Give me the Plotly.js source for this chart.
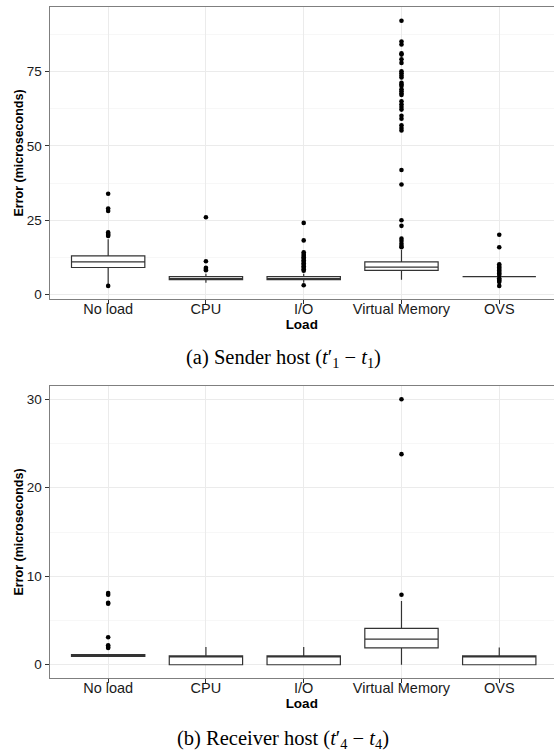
<!DOCTYPE html>
<html>
<head>
<meta charset="utf-8">
<script src="https://cdn.plot.ly/plotly-3.0.1.min.js"></script>
<style>
html,body{margin:0;padding:0;background:#fff;}
#chart{width:554px;height:755px;}
</style>
</head>
<body>
<div id="chart"></div>
<script>
// ---------- data ----------
var categories = ['No load', 'CPU', 'I/O', 'Virtual Memory', 'OVS'];

// (a) Sender host
var senderQ1     = [9.1, 5.0, 5.0, 8.1, 6.0];
var senderMedian = [11.0, 5.0, 5.0, 9.2, 6.0];
var senderQ3     = [13.0, 6.0, 6.0, 11.0, 6.0];
var senderLow    = [3.5, 4.0, 4.0, 5.0, 6.0];
var senderHigh   = [18.6, 7.0, 7.0, 15.0, 6.0];
var senderOutNoLoad = [33.9, 28.9, 28.1, 20.9, 20.4, 20.0, 19.7, 2.9];
var senderOutCPU    = [26.0, 11.2, 9.0, 8.6, 8.2];
var senderOutIO     = [24.1, 18.2, 14.2, 13.6, 13.0, 12.5, 12.0, 11.5, 11.0, 10.5, 10.0, 9.5, 9.0, 8.5, 8.0, 3.1];
var senderOutVM     = [92.1, 85.1, 84.1, 81.1, 80.7, 79.1, 77.9, 75.1, 74.4, 73.7, 73.0, 71.2, 70.6, 70.1, 69.0, 68.4, 67.6, 67.1, 65.0, 64.0, 63.1, 62.2, 60.1, 59.1, 56.9, 56.0, 55.2, 41.9, 37.0, 25.0, 23.1, 18.8, 18.0, 17.1, 16.3, 15.9];
var senderOutOVS    = [20.1, 15.9, 10.2, 9.6, 9.1, 8.6, 8.1, 7.6, 7.1, 6.6, 5.5, 5.0, 4.6, 4.2, 2.9];

// (b) Receiver host
var receiverQ1     = [0.93, 0.0, 0.0, 1.9, 0.0];
var receiverMedian = [1.0, 1.0, 1.0, 2.9, 1.0];
var receiverQ3     = [1.15, 1.0, 1.0, 4.1, 1.0];
var receiverLow    = [0.93, 0.0, 0.0, 0.0, 0.0];
var receiverHigh   = [1.15, 2.0, 2.0, 7.2, 1.95];
var receiverOutNoLoad = [8.1, 7.9, 7.0, 6.9, 3.1, 2.2, 2.0, 1.9];
var receiverOutCPU    = [];
var receiverOutIO     = [];
var receiverOutVM     = [30.0, 23.8, 7.9];
var receiverOutOVS    = [];

var senderOutliers   = [senderOutNoLoad, senderOutCPU, senderOutIO, senderOutVM, senderOutOVS];
var receiverOutliers = [receiverOutNoLoad, receiverOutCPU, receiverOutIO, receiverOutVM, receiverOutOVS];

// ---------- traces ----------
function boxTrace(q1, med, q3, lo, hi, xa, ya) {
  return {
    type: 'box', x: categories, q1: q1, median: med, q3: q3,
    lowerfence: lo, upperfence: hi,
    boxpoints: false, width: 0.75, whiskerwidth: 0,
    fillcolor: '#ffffff', line: {color: '#333333', width: 1.2},
    xaxis: xa, yaxis: ya, showlegend: false, hoverinfo: 'skip'
  };
}
function outlierTrace(groups, xa, ya) {
  var xs = [], ys = [];
  groups.forEach(function (g, i) {
    g.forEach(function (v) { xs.push(categories[i]); ys.push(v); });
  });
  return {
    type: 'scatter', mode: 'markers', x: xs, y: ys,
    marker: {color: '#000000', size: 4.6},
    xaxis: xa, yaxis: ya, showlegend: false, hoverinfo: 'skip', cliponaxis: false
  };
}

var data = [
  boxTrace(senderQ1, senderMedian, senderQ3, senderLow, senderHigh, 'x', 'y'),
  outlierTrace(senderOutliers, 'x', 'y'),
  boxTrace(receiverQ1, receiverMedian, receiverQ3, receiverLow, receiverHigh, 'x2', 'y2'),
  outlierTrace(receiverOutliers, 'x2', 'y2')
];

// ---------- layout ----------
var tickFont = {family: 'Liberation Sans, Arial, sans-serif', size: 14.5, color: '#1a1a1a'};
var yTickFont = {family: 'Liberation Sans, Arial, sans-serif', size: 13.5, color: '#1a1a1a'};
var xTitleFont = {family: 'Liberation Sans, Arial, sans-serif', size: 13.5, color: '#000000', weight: 'bold'};
var yTitleFont = {family: 'Liberation Sans, Arial, sans-serif', size: 12.5, color: '#000000', weight: 'bold'};
var captionFont = {family: 'Liberation Serif, Times New Roman, serif', size: 20.5, color: '#000000'};

function xAxis(anchor) {
  return {
    type: 'category', categoryorder: 'array', categoryarray: categories,
    domain: [49.5 / 554, 1], anchor: anchor, range: [-0.6, 4.56],
    showgrid: true, gridcolor: '#ebebeb', gridwidth: 1,
    showline: true, linecolor: '#7f7f7f', linewidth: 1, mirror: true,
    ticks: 'outside', ticklen: 4, tickcolor: '#333333', tickwidth: 1,
    ticklabelstandoff: -7,
    tickfont: tickFont, zeroline: false,
    title: {text: 'Load', font: xTitleFont, standoff: 0}
  };
}
function yAxis(anchor, domain, range, dtick) {
  return {
    domain: domain, anchor: anchor, range: range,
    tick0: 0, dtick: dtick,
    showgrid: true, gridcolor: '#ebebeb', gridwidth: 1,
    minor: {dtick: dtick / 2, tick0: 0, showgrid: true, gridcolor: '#f5f5f5', gridwidth: 0.8, ticks: ''},
    showline: true, linecolor: '#7f7f7f', linewidth: 1,
    ticks: 'outside', ticklen: 4, tickcolor: '#333333', tickwidth: 1,
    tickfont: yTickFont, zeroline: false,
    title: {text: 'Error (microseconds)', font: yTitleFont, standoff: 0}
  };
}

var layout = {
  width: 554, height: 755,
  margin: {l: 0, r: 0, t: 0, b: 0},
  paper_bgcolor: '#ffffff', plot_bgcolor: '#ffffff',
  showlegend: false,
  xaxis: xAxis('y'),
  yaxis: yAxis('x', [1 - 299 / 755, 1 - 7 / 755], [-1.5, 96.7], 25),
  xaxis2: xAxis('y2'),
  yaxis2: yAxis('x2', [1 - 678 / 755, 1 - 386 / 755], [-1.5, 31.5], 10),
  annotations: [
    {text: '(a) Sender host (<i>t</i>\u2032<sub>1</sub> \u2212 <i>t</i><sub>1</sub>)',
     xref: 'paper', yref: 'paper', x: 283 / 554, y: 1 - 359 / 755,
     xanchor: 'center', yanchor: 'middle', showarrow: false, font: captionFont},
    {text: '(b) Receiver host (<i>t</i>\u2032<sub>4</sub> \u2212 <i>t</i><sub>4</sub>)',
     xref: 'paper', yref: 'paper', x: 283 / 554, y: 1 - 739 / 755,
     xanchor: 'center', yanchor: 'middle', showarrow: false, font: captionFont}
  ]
};

Plotly.newPlot('chart', data, layout, {staticPlot: true, displayModeBar: false});
</script>
</body>
</html>
